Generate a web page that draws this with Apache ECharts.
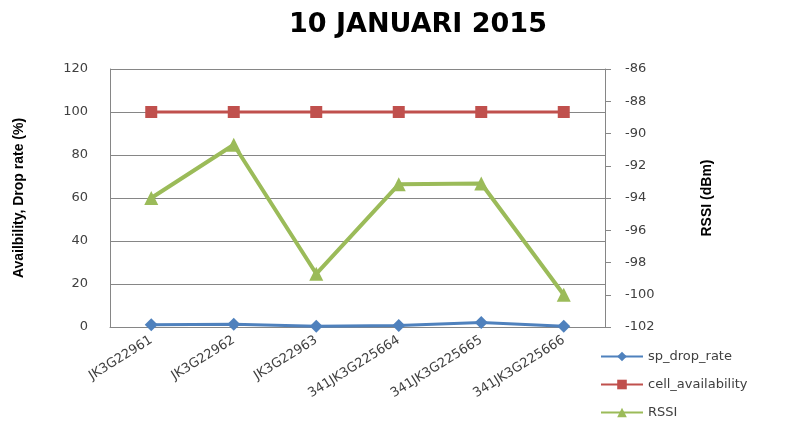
<!DOCTYPE html>
<html>
<head>
<meta charset="utf-8">
<script src="https://cdn.jsdelivr.net/npm/echarts@6/dist/echarts.min.js"></script>
<style>
  html, body { margin: 0; padding: 0; background: #fff; }
  #chart { width: 803px; height: 425px; }
</style>
</head>
<body>
<div id="chart"></div>
<script>
// data
const categories = ["JK3G22961", "JK3G22962", "JK3G22963", "341JK3G225664", "341JK3G225665", "341JK3G225666"];
const spDropRate = [1.1, 1.3, 0.4, 0.7, 2.1, 0.3];
const cellAvailability = [100, 100, 100, 100, 100, 100];
const rssi = [-94.0, -90.7, -98.7, -93.15, -93.1, -100.0];

const chart = echarts.init(document.getElementById("chart"), null, { renderer: "canvas" });

const axisFont = { fontFamily: "DejaVu Sans", fontSize: 13, color: "#404040" };
const nameFont = {
  fontFamily: "Liberation Sans",
  fontSize: 14,
  fontWeight: "bold",
  color: "#000"
};

chart.setOption({
  animation: false,
  title: {
    text: "10 JANUARI 2015",
    left: 413,
    textAlign: "center",
    top: 6,
    textStyle: { fontFamily: "DejaVu Sans", fontSize: 27, fontWeight: "bold", color: "#000" }
  },
  legend: {
    orient: "vertical",
    left: 600,
    top: 350,
    padding: 0,
    itemWidth: 42,
    itemHeight: 12,
    itemGap: 15,
    textStyle: { fontFamily: "DejaVu Sans", fontSize: 13, color: "#404040" },
    data: ["sp_drop_rate", "cell_availability", "RSSI"]
  },
  grid: { left: 110, right: 198, top: 69, bottom: 98 },
  xAxis: {
    type: "category",
    data: categories,
    boundaryGap: true,
    axisLine: { lineStyle: { color: "#868686", width: 1 } },
    axisTick: { show: false },
    axisLabel: Object.assign({ rotate: 32, margin: 12, interval: 0 }, axisFont)
  },
  yAxis: [
    {
      type: "value",
      min: 0,
      max: 120,
      interval: 20,
      name: "Availbility, Drop rate (%)",
      nameLocation: "middle",
      nameGap: 84,
      nameTextStyle: nameFont,
      axisLine: { show: true, lineStyle: { color: "#868686" } },
      axisTick: { show: false },
      splitLine: { lineStyle: { color: "#868686", width: 1 } },
      axisLabel: Object.assign({ margin: 22 }, axisFont)
    },
    {
      type: "value",
      min: -102,
      max: -86,
      interval: 2,
      position: "right",
      name: "RSSI (dBm)",
      nameLocation: "middle",
      nameGap: 95,
      nameTextStyle: nameFont,
      axisLine: { show: true, lineStyle: { color: "#868686" } },
      axisTick: { show: true, length: 6, inside: false, lineStyle: { color: "#868686" } },
      splitLine: { show: false },
      axisLabel: Object.assign({ margin: 20 }, axisFont)
    }
  ],
  series: [
    {
      name: "sp_drop_rate",
      type: "line",
      data: spDropRate,
      symbol: "diamond",
      symbolSize: 13,
      color: "#4F81BD",
      lineStyle: { width: 3, color: "#4F81BD" },
      itemStyle: { color: "#4F81BD" }
    },
    {
      name: "cell_availability",
      type: "line",
      data: cellAvailability,
      symbol: "rect",
      symbolSize: 12,
      color: "#C0504D",
      lineStyle: { width: 3, color: "#C0504D" },
      itemStyle: { color: "#C0504D" }
    },
    {
      name: "RSSI",
      type: "line",
      yAxisIndex: 1,
      data: rssi,
      symbol: "triangle",
      symbolSize: 14,
      color: "#9BBB59",
      lineStyle: { width: 4, color: "#9BBB59" },
      itemStyle: { color: "#9BBB59" }
    }
  ]
});
</script>
</body>
</html>
